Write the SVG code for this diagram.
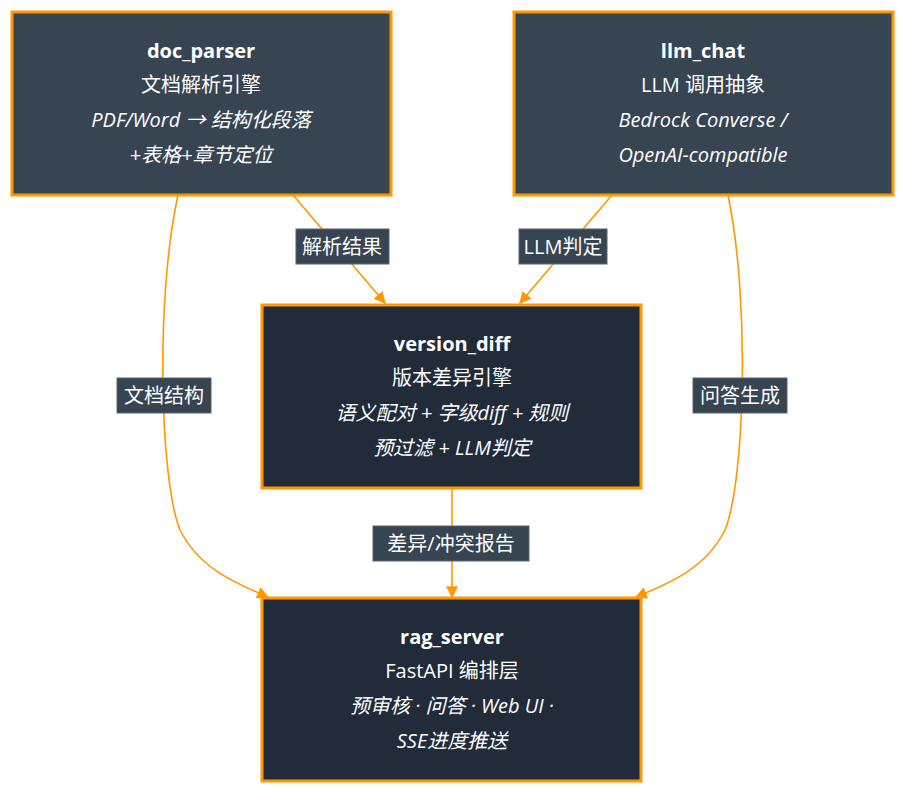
<svg xmlns="http://www.w3.org/2000/svg" width="918" height="803" viewBox="0 0 918 803">
<style>
.n1{fill:#374451;stroke:#ff9800;stroke-width:3}
.n2{fill:#222b3a;stroke:#ff9800;stroke-width:3}
text{font-family:"Open Sans","Noto Sans CJK SC",sans-serif;font-size:20px;fill:#fff;text-anchor:middle}
.b{font-weight:bold}
.i{font-style:italic}
.e{fill:none;stroke:#ff9800;stroke-width:1.6}
.lb{fill:#374451;stroke:#5a6470;stroke-width:1}
</style>
<defs><marker id="a" viewBox="0 0 10 10" refX="9" refY="5" markerWidth="8" markerHeight="8" orient="auto" markerUnits="userSpaceOnUse"><path d="M0,0L10,5L0,10z" fill="#ff9800"/></marker>
<marker id="m" viewBox="0 0 10 10" refX="9" refY="5" markerWidth="12" markerHeight="12" orient="auto" markerUnits="userSpaceOnUse"><path d="M0,0L10,5L0,10z" fill="#ff9800"/></marker></defs>
<g id="connectors">
<path class="e" d="M293,195L385,303" marker-end="url(#m)"/>
<path class="e" d="M612,195L520,303" marker-end="url(#m)"/>
<path class="e" d="M178,195C155,300 160,480 180,530C200,570 240,585 268,597" marker-end="url(#m)"/>
<path class="e" d="M728,195C750,300 745,480 725,530C705,570 665,585 636,597" marker-end="url(#m)"/>
<path class="e" d="M452,488L452,597" marker-end="url(#m)"/>
<rect class="lb" x="296" y="229" width="93" height="35"/><text x="342" y="254">解析结果</text>
<rect class="lb" x="519" y="229" width="88" height="35"/><text x="563" y="254">LLM判定</text>
<rect class="lb" x="117" y="378" width="94" height="35"/><text x="164" y="403">文档结构</text>
<rect class="lb" x="693" y="378" width="94" height="35"/><text x="740" y="403">问答生成</text>
<rect class="lb" x="373" y="526" width="156" height="35"/><text x="451" y="551">差异/冲突报告</text>
</g>
<g id="doc_parser"><rect class="n1" x="12" y="12" width="379" height="183"/>
<text class="b" x="201" y="58">doc_parser</text><text x="201" y="92">文档解析引擎</text>
<text class="i" x="201" y="127">PDF/Word → 结构化段落</text><text class="i" x="201" y="162">+表格+章节定位</text></g>
<g id="llm_chat"><rect class="n1" x="514" y="12" width="379" height="183"/>
<text class="b" x="703" y="58">llm_chat</text><text x="703" y="92">LLM 调用抽象</text>
<text class="i" x="703" y="127">Bedrock Converse /</text><text class="i" x="703" y="162">OpenAI-compatible</text></g>
<g id="version_diff"><rect class="n2" x="262" y="305" width="379" height="183"/>
<text class="b" x="452" y="351">version_diff</text><text x="452" y="385">版本差异引擎</text>
<text class="i" x="452" y="420">语义配对 + 字级diff + 规则</text><text class="i" x="452" y="455">预过滤 + LLM判定</text></g>
<g id="rag_server"><rect class="n2" x="262" y="598" width="379" height="183"/>
<text class="b" x="452" y="644">rag_server</text><text x="452" y="678">FastAPI 编排层</text>
<text class="i" x="452" y="713">预审核 · 问答 · Web UI ·</text><text class="i" x="452" y="748">SSE进度推送</text></g>
</svg>
